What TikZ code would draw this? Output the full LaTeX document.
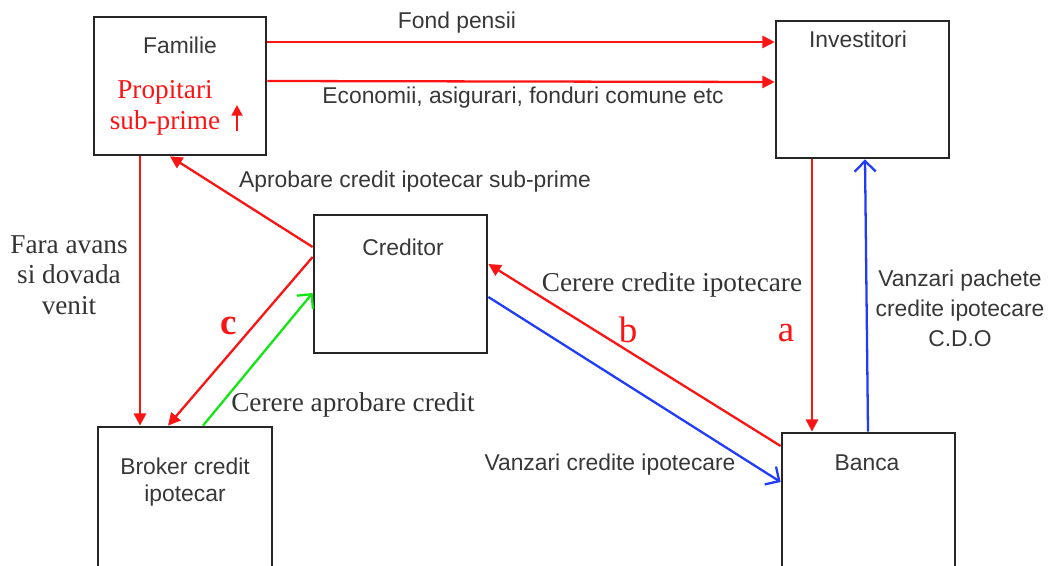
\documentclass[tikz,border=0pt]{standalone}
\usepackage{fontspec}
\setmainfont{Liberation Serif}
\setsansfont{Liberation Sans}
\usepackage{xcolor}
\usetikzlibrary{positioning}
\usetikzlibrary{arrows.meta}

\definecolor{rosu}{RGB}{250,20,20}
\definecolor{albastru}{RGB}{30,60,250}
\definecolor{verde}{RGB}{20,230,20}
\definecolor{gritext}{RGB}{55,55,55}

\tikzset{
  blok/.style={draw=black!85, line width=1.6pt, inner sep=0pt},
  etic/.style={font=\sffamily\fontsize{13}{15.5}\selectfont, text=gritext, inner sep=1pt, align=center},
  etser/.style={font=\fontsize{15.5}{17.5}\selectfont, text=black!80, inner sep=1pt, align=center},
  litera/.style={font=\fontsize{21}{24}\selectfont, text=rosu, inner sep=1pt},
  sagrosu/.style={rosu, line width=1.3pt, -{Triangle[length=7pt,width=7pt]}},
  sagalb/.style={albastru, line width=1.3pt, -{Straight Barb[length=6pt,width=12pt]}},
  sagverde/.style={verde, line width=1.3pt, -{Straight Barb[length=6pt,width=12pt]}}
}

\begin{document}
\begin{tikzpicture}[x=0.02cm, y=-0.02cm]
\useasboundingbox (0,0) rectangle (1053,565);

% boxes
\node[blok, minimum width=3.44cm, minimum height=2.76cm] (familie) at (180,86) {};
\node[blok, minimum width=3.46cm, minimum height=2.74cm] (investitori) at (862.5,89.5) {};
\node[blok, minimum width=3.46cm, minimum height=2.76cm] (creditor) at (400.5,284) {};
\node[blok, minimum width=3.48cm, minimum height=3.16cm] (broker) at (185,506) {};
\node[blok, minimum width=3.46cm, minimum height=3.16cm] (banca) at (868.5,512) {};

% box texts
\node[etic] (tfamilie) at (180,45) {Familie};
\node[etser, text=rosu] (tpropitari) at (165,108) {Propitari\\sub-prime};
\node[etic] (tinvestitori) at (858,39) {Investitori};
\node[etic] (tcreditor) at (403,247) {Creditor};
\node[etic] (tbroker) at (185,482) {Broker credit\\ipotecar};
\node[etic] (tbanca) at (867,463) {Banca};

% small up arrow
\draw[rosu, line width=1.5pt, -{Triangle[length=6pt,width=6pt]}] (237,131) -- (237,105);

% connectors
\draw[sagrosu] (familie.east |- 0,42) -- (investitori.west |- 0,42);
\draw[sagrosu] (familie.east |- 0,81) -- (investitori.west |- 0,82);
\draw[sagrosu] (familie.south -| 140,0) -- (broker.north -| 140,0);
\draw[sagrosu] (creditor.west |- 0,247) -- (familie.south -| 170,0);
\draw[sagrosu] (creditor.west |- 0,257) -- (broker.north -| 168,0);
\draw[sagverde] (broker.north -| 203,0) -- (creditor.west |- 0,293);
\draw[sagrosu] (banca.west |- 0,446) -- (creditor.east |- 0,264);
\draw[sagalb] (creditor.east |- 0,297) -- (banca.west |- 0,482);
\draw[sagrosu] (investitori.south -| 812,0) -- (banca.north -| 812,0);
\draw[sagalb] (banca.north -| 868,0) -- (investitori.south -| 865,0);

% connector labels
\node[etic] (lfond) at (457,23) {Fond pensii};
\node[etic] (leconomii) at (523,98) {Economii, asigurari, fonduri comune etc};
\node[etic] (laprobare) at (415,182) {Aprobare credit ipotecar sub-prime};
\node[etser] (lfara) at (69,275) {Fara avans\\si dovada\\venit};
\node[litera, font=\bfseries\fontsize{21}{24}\selectfont] (lc) at (229,326) {c};
\node[etser] (lcerereapr) at (353,405) {Cerere aprobare credit};
\node[etser] (lcerere) at (672,285) {Cerere credite ipotecare};
\node[litera] (lb) at (628,330) {b};
\node[litera] (la) at (786,333) {a};
\node[etic] (lvanzari) at (610,465) {Vanzari credite ipotecare};
\node[etic, font=\sffamily\fontsize{13}{17}\selectfont] (lpachete) at (960,308) {Vanzari pachete\\credite ipotecare\\C.D.O};

\end{tikzpicture}
\end{document}
